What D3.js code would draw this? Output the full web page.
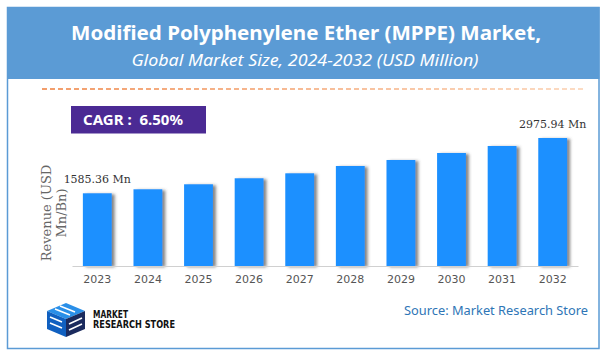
<!DOCTYPE html>
<html><head><meta charset="utf-8">
<script src="https://cdn.jsdelivr.net/npm/d3@7/dist/d3.min.js"></script>
<style>html,body{margin:0;padding:0;background:#fff;}svg{display:block;}</style>
</head><body>
<svg id="c" width="606" height="356"></svg>
<script>
const years = ["2023","2024","2025","2026","2027","2028","2029","2030","2031","2032"];
const revenue = [1585.36, 1686, 1812, 1963, 2088, 2272, 2423, 2599, 2775, 2975.94];
const valueLabels = ["1585.36 Mn", "", "", "", "", "", "", "", "", "2975.94 Mn"];
const yMin = -243;
const titleText = "Modified Polyphenylene Ether (MPPE) Market,";
const subtitleText = "Global Market Size, 2024-2032 (USD Million)";
const cagrText = "CAGR :  6.50%";
const yTitle = ["Revenue (USD", "Mn/Bn)"];
const sourceText = "Source: Market Research Store";

const svg = d3.select("#c");
const defs = svg.append("defs");
const f = defs.append("filter").attr("id","sh").attr("x","-20%").attr("y","-10%").attr("width","160%").attr("height","130%");
f.append("feDropShadow").attr("dx",3).attr("dy",1).attr("stdDeviation",1.4).attr("flood-color","#444").attr("flood-opacity",0.65);
const g = defs.append("linearGradient").attr("id","dg").attr("x1","0").attr("x2","1").attr("y1","0").attr("y2","0");
g.append("stop").attr("offset","0").attr("stop-color","#ee7d3a");
g.append("stop").attr("offset","1").attr("stop-color","#fbd0b0");

// frame
svg.append("rect").attr("x",7.5).attr("y",7.5).attr("width",591.5).attr("height",341).attr("fill","#fff").attr("stroke","#5b9bd5").attr("stroke-width",1.5);
svg.append("rect").attr("x",7).attr("y",7).attr("width",592.5).attr("height",72).attr("fill","#5b9bd5");

svg.append("text").attr("x",306).attr("y",40).attr("text-anchor","middle")
  .attr("font-family","Noto Sans").attr("font-weight","bold").attr("font-size",20)
  .attr("textLength",470).attr("lengthAdjust","spacingAndGlyphs").attr("fill","#fff").text(titleText);
svg.append("text").attr("x",305).attr("y",66).attr("text-anchor","middle")
  .attr("font-family","Noto Sans").attr("font-style","italic").attr("font-size",16)
  .attr("textLength",347).attr("lengthAdjust","spacingAndGlyphs").attr("fill","#fff").text(subtitleText);

svg.append("line").attr("x1",42).attr("x2",583).attr("y1",89).attr("y2",89.01)
  .attr("stroke","url(#dg)").attr("stroke-width",1.5).attr("stroke-dasharray","5,3");

// CAGR box
svg.append("rect").attr("x",71).attr("y",106).attr("width",135).attr("height",27.5).attr("fill","#4b2a94");
svg.append("text").attr("x",83).attr("y",125).attr("font-family","Noto Sans").attr("font-weight","bold")
  .attr("font-size",14.5).attr("fill","#fff").attr("textLength",100).attr("lengthAdjust","spacingAndGlyphs")
  .attr("xml:space","preserve").text(cagrText);

// scales
const x = d3.scaleBand().domain(years).range([72,578]).paddingInner(0.43).paddingOuter(0.215);
const y = d3.scaleLinear().domain([yMin, revenue[revenue.length-1]]).range([266,138]);

svg.append("g").selectAll("rect").data(revenue).join("rect")
  .attr("x",(d,i)=>x(years[i])).attr("width",x.bandwidth())
  .attr("y",d=>y(d)).attr("height",d=>266-y(d))
  .attr("fill","#1e90ff").attr("filter","url(#sh)");

// axis
const ax = svg.append("g").attr("transform","translate(0,266)").call(d3.axisBottom(x).tickSize(0).tickPadding(9));
ax.select(".domain").attr("stroke","#d0d0d0").attr("stroke-width",1.2);
ax.selectAll("text").attr("font-family","DejaVu Sans").attr("font-size",11).attr("fill","#555");

svg.append("g").selectAll("text").data(revenue).join("text")
  .attr("x",(d,i)=>x(years[i])+x.bandwidth()/2).attr("y",d=>y(d)-10)
  .attr("text-anchor","middle").attr("font-family","DejaVu Serif").attr("font-size",11).attr("fill","#333")
  .text((d,i)=>valueLabels[i]);

const yt = svg.append("text").attr("transform","translate(51,213) rotate(-90)").attr("text-anchor","middle")
  .attr("font-family","DejaVu Serif").attr("font-size",13).attr("fill","#666");
yTitle.forEach((t,i)=>yt.append("tspan").attr("x",0).attr("dy",i===0?0:15).text(t));

// logo
const lg = svg.append("g");
lg.append("polygon").attr("points","66,303 85,311 66,319 47,311").attr("fill","#2a8fe8");
lg.append("polygon").attr("points","47,311 66,319 66,337 47,329").attr("fill","#1060c0");
lg.append("polygon").attr("points","66,319 85,311 85,329 66,337").attr("fill","#1b2b5e");
lg.append("path").attr("d","M55,309 L70,315 M60,306 L75,312 M50,317 L62,322 M50,323 L62,328 M69,324 L82,318 M69,330 L82,324")
  .attr("stroke","#fff").attr("stroke-width",1.6).attr("fill","none");
lg.append("text").attr("x",93).attr("y",318).attr("font-family","DejaVu Sans Condensed, DejaVu Sans").attr("font-weight","bold")
  .attr("font-size",10).attr("fill","#111").attr("textLength",35).attr("lengthAdjust","spacingAndGlyphs").text("MARKET");
lg.append("text").attr("x",93).attr("y",328).attr("font-family","DejaVu Sans Condensed, DejaVu Sans").attr("font-weight","bold")
  .attr("font-size",10).attr("fill","#111").attr("textLength",82).attr("lengthAdjust","spacingAndGlyphs").text("RESEARCH STORE");

svg.append("text").attr("x",588).attr("y",315).attr("text-anchor","end").attr("font-family","Noto Sans")
  .attr("font-size",13).attr("fill","#2e75b6").attr("textLength",184).attr("lengthAdjust","spacingAndGlyphs").text(sourceText);
</script>
</body></html>
